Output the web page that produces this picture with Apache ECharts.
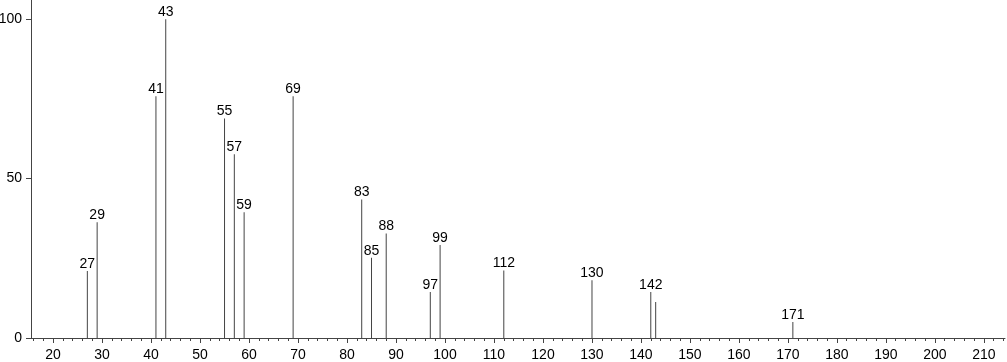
<!DOCTYPE html>
<html>
<head>
<meta charset="utf-8">
<script src="https://cdn.jsdelivr.net/npm/echarts@6/dist/echarts.min.js"></script>
<style>html,body{margin:0;padding:0;background:#fff}#c{width:1007px;height:362px}</style>
</head>
<body>
<div id="c"></div>
<script>
const mz = [27, 29, 41, 43, 55, 57, 59, 69, 83, 85, 88, 97, 99, 112, 130, 142, 143, 171];
const intensity = [21, 36.3, 75.8, 100, 68.8, 57.6, 39.4, 75.8, 43.4, 25.2, 32.8, 14.4, 29.2, 21.2, 18.1, 14.4, 11.3, 5.0];
const labelled = [true, true, true, true, true, true, true, true, true, true, true, true, true, true, true, true, false, true];
const xMajorTicks = [20, 30, 40, 50, 60, 70, 80, 90, 100, 110, 120, 130, 140, 150, 160, 170, 180, 190, 200, 210];
const xMinorTicks = [];
for (let v = 16; v <= 214; v += 2) { if (v % 10 !== 0) xMinorTicks.push(v); }
const yTicks = [0, 50, 100];

const chart = echarts.init(document.getElementById('c'), null, {renderer: 'canvas'});
const font = {fontFamily: 'Liberation Sans, Arial, sans-serif', fontSize: 14, color: '#000'};
const data = mz.map((m, i) => ({
  value: [m, intensity[i]],
  label: {show: labelled[i]}
}));
chart.setOption({
  animation: false,
  grid: {left: 31, top: 0, right: 2, bottom: 24, containLabel: false, outerBoundsMode: 'none'},
  xAxis: [{
    type: 'value', min: 15.5, max: 214.3,
    axisLine: {show: true, lineStyle: {color: '#444', width: 1}},
    axisTick: {show: true, inside: false, length: 5, customValues: xMajorTicks, lineStyle: {color: '#444'}},
    axisLabel: Object.assign({show: true, margin: 10, customValues: xMajorTicks}, font),
    splitLine: {show: false}
  }, {
    type: 'value', min: 15.5, max: 214.3, position: 'bottom',
    axisLine: {show: false},
    axisTick: {show: true, inside: false, length: 3, customValues: xMinorTicks, lineStyle: {color: '#444'}},
    axisLabel: {show: false},
    splitLine: {show: false}
  }],
  yAxis: {
    type: 'value', min: 0, max: 106,
    axisLine: {show: true, lineStyle: {color: '#444', width: 1}},
    axisTick: {show: true, inside: false, length: 5, customValues: yTicks, lineStyle: {color: '#444'}},
    axisLabel: Object.assign({show: true, margin: 9, customValues: yTicks}, font),
    splitLine: {show: false}
  },
  series: [{
    type: 'bar', xAxisIndex: 0, barWidth: 1,
    itemStyle: {color: '#444'},
    label: Object.assign({position: 'top', distance: 0, formatter: p => String(p.value[0])}, font),
    data: data
  }]
});
</script>
</body>
</html>
